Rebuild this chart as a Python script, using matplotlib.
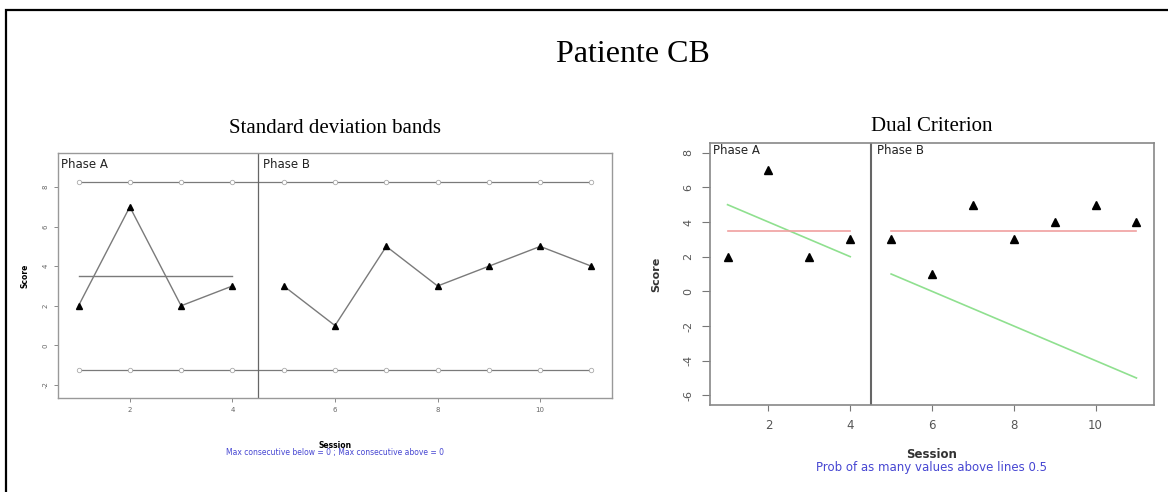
import matplotlib
matplotlib.use("Agg")
import matplotlib.pyplot as plt
from matplotlib.patches import Rectangle

# data
sessions_a = [1, 2, 3, 4]
scores_a = [2, 7, 2, 3]
sessions_b = [5, 6, 7, 8, 9, 10, 11]
scores_b = [3, 1, 5, 3, 4, 5, 4]
mean_a = 3.5
band_upper = 8.26
band_lower = -1.26
all_sessions = sessions_a + sessions_b
trend_a_x = [1, 4]
trend_a_y = [5, 2]
trend_b_x = [5, 11]
trend_b_y = [1, -5]
left_yticks = [-2, 0, 2, 4, 6, 8]
right_yticks = [-6, -4, -2, 0, 2, 4, 6, 8]
xticks = [2, 4, 6, 8, 10]

W, H = 1168, 492
fig = plt.figure(figsize=(W / 100, H / 100), dpi=100)


def px_axes(left, top, right, bottom):
    return fig.add_axes([left / W, (H - bottom) / H, (right - left) / W, (bottom - top) / H])


def style_box(ax, color, lw):
    for s in ax.spines.values():
        s.set_color(color)
        s.set_linewidth(lw)


blue = "#4646d2"

# outer frame
fig.add_artist(Rectangle((6 / W, -0.1), 1.2, 1.1 - 10 / H, transform=fig.transFigure,
                         fill=False, edgecolor="black", linewidth=1.6))

fig.text(633 / W, 1 - 55 / H, "Patiente CB", family="Liberation Serif", fontsize=23,
         ha="center", va="center")

# ---- left: standard deviation bands ----
ax1 = px_axes(58, 153, 612, 398)
ax1.set_xlim(0.6, 11.4)
ax1.set_ylim(-2.66, 9.72)
style_box(ax1, "#999999", 1.0)
grey = "#7a7a7a"
for yb in (band_upper, band_lower):
    ax1.plot(all_sessions, [yb] * len(all_sessions), color=grey, lw=0.9, marker="o",
             markersize=3.2, markerfacecolor="white", markeredgecolor="#aaaaaa", markeredgewidth=0.6)
ax1.plot(sessions_a, scores_a, color=grey, lw=1.0, zorder=3)
ax1.plot(sessions_b, scores_b, color=grey, lw=1.0, zorder=3)
ax1.plot(sessions_a + sessions_b, scores_a + scores_b, ls="none", marker="^", color="black",
         markersize=4.8, zorder=4)
ax1.plot([sessions_a[0], sessions_a[-1]], [mean_a, mean_a], color=grey, lw=1.0)
ax1.axvline(4.5, color="#666666", lw=0.9)
ax1.set_yticks(left_yticks)
ax1.set_yticklabels([str(v) for v in left_yticks], rotation=90, va="center")
ax1.set_xticks(xticks)
ax1.tick_params(labelsize=5, colors="#777777", length=3, width=0.6, labelcolor="#666666")
ax1.text(0.66, 9.45, "Phase A", fontsize=8.5, va="top", ha="left", color="#222222")
ax1.text(4.6, 9.45, "Phase B", fontsize=8.5, va="top", ha="left", color="#222222")
ax1.set_ylabel("Score", fontsize=5.5, fontweight="bold", labelpad=10)
fig.text(335 / W, 1 - 445 / H, "Session", fontsize=5.5, fontweight="bold", ha="center", va="center")
fig.text(335 / W, 1 - 453 / H, "Max consecutive below = 0 ; Max consecutive above = 0",
         fontsize=5.5, color=blue, ha="center", va="center")
fig.text(335 / W, 1 - 128 / H, "Standard deviation bands", family="Liberation Serif",
         fontsize=15, ha="center", va="center")

# ---- right: dual criterion ----
ax2 = px_axes(710, 143, 1154, 405)
ax2.set_xlim(0.57, 11.43)
ax2.set_ylim(-6.56, 8.56)
style_box(ax2, "#888888", 1.2)
ax2.plot(trend_a_x, trend_a_y, color="#8fe08f", lw=1.2)
ax2.plot(trend_b_x, trend_b_y, color="#8fe08f", lw=1.2)
ax2.plot([sessions_a[0], sessions_a[-1]], [mean_a, mean_a], color="#f0a0a0", lw=1.2)
ax2.plot([sessions_b[0], sessions_b[-1]], [mean_a, mean_a], color="#f0a0a0", lw=1.2)
ax2.plot(sessions_a + sessions_b, scores_a + scores_b, ls="none", marker="^", color="black",
         markersize=6, zorder=4)
ax2.axvline(4.5, color="#666666", lw=1.5)
ax2.set_yticks(right_yticks)
ax2.set_yticklabels([str(v) for v in right_yticks], rotation=90, va="center")
ax2.set_xticks(xticks)
ax2.tick_params(axis="y", labelsize=8, colors="#777777", length=6, width=0.8, pad=6,
                labelcolor="#555555")
ax2.tick_params(axis="x", labelsize=8.5, colors="#777777", length=4, width=0.8, pad=6,
                labelcolor="#555555")
ax2.text(0.65, 8.5, "Phase A", fontsize=8.5, va="top", ha="left", color="#222222")
ax2.text(4.65, 8.5, "Phase B", fontsize=8.5, va="top", ha="left", color="#222222")
ax2.set_ylabel("Score", fontsize=8, fontweight="bold", labelpad=16, color="#333333")
fig.text(932 / W, 1 - 454 / H, "Session", fontsize=8.5, fontweight="bold", ha="center",
         va="center", color="#333333")
fig.text(932 / W, 1 - 467 / H, "Prob of as many values above lines 0.5", fontsize=8.5,
         color=blue, ha="center", va="center")
fig.text(932 / W, 1 - 127 / H, "Dual Criterion", family="Liberation Serif",
         fontsize=15, ha="center", va="center")

fig.savefig("out.png", dpi=100)
